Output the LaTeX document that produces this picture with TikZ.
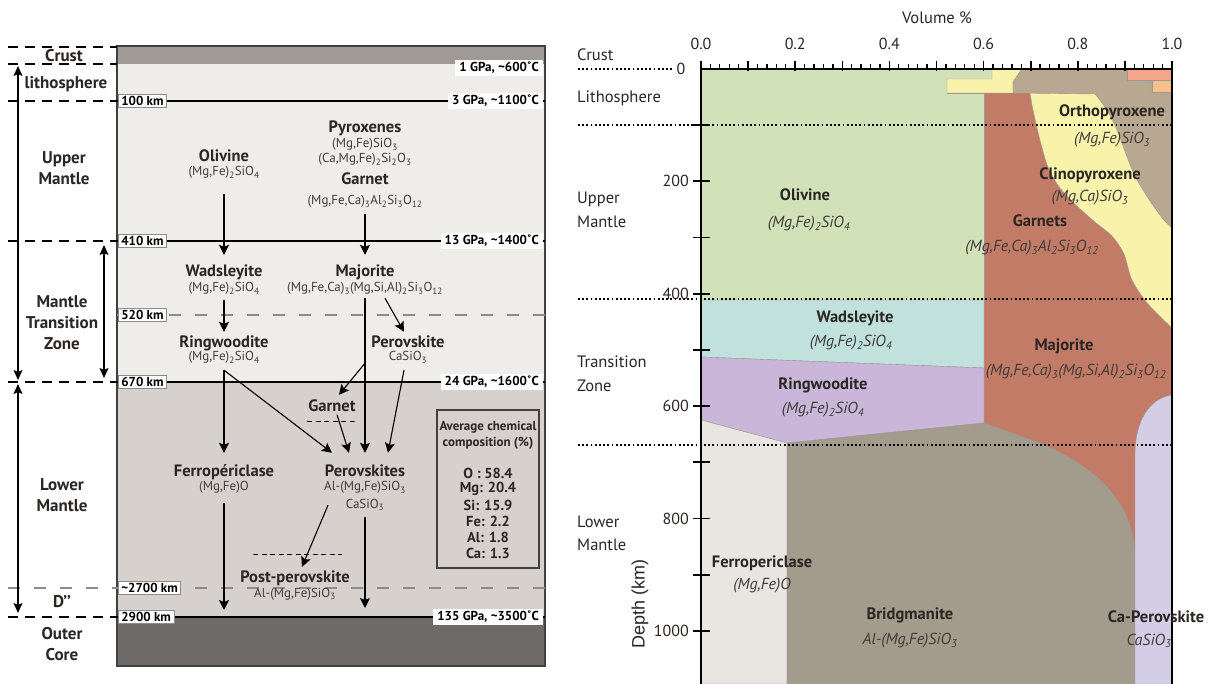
\documentclass[tikz,border=0pt]{standalone}
\usepackage{fontspec}
\setmainfont{PT Sans}
\newfontfamily\arialf{Liberation Sans}
\usetikzlibrary{arrows.meta}
\newcommand{\sbs}[1]{\textsubscript{#1}}
\definecolor{crustc}{HTML}{9F9A95}
\definecolor{upperc}{HTML}{EFEDEA}
\definecolor{lowerc}{HTML}{D6D1CC}
\definecolor{corec}{HTML}{6E6A67}
\definecolor{olc}{HTML}{D1E2B8}
\definecolor{yelc}{HTML}{F8F2AB}
\definecolor{tanc}{HTML}{B8A891}
\definecolor{redc}{HTML}{C27B67}
\definecolor{tealc}{HTML}{C1E1DC}
\definecolor{purc}{HTML}{C9B6D9}
\definecolor{ferc}{HTML}{E9E5E0}
\definecolor{brc}{HTML}{A39C8D}
\definecolor{capc}{HTML}{D4CDE6}
\definecolor{salc}{HTML}{F5A589}
\definecolor{orc}{HTML}{F9C08B}
\definecolor{txtc}{HTML}{2A2624}
\definecolor{frmc}{HTML}{403D3B}
\begin{document}
\begin{tikzpicture}[x=1pt,y=-1pt,
  nm/.style={font=\fontsize{16.5}{18}\selectfont\bfseries, text=txtc, inner sep=0pt, text height=12pt, text depth=3.5pt},
  fm/.style={font=\fontsize{13}{15}\selectfont, text=frmc, inner sep=0pt, text height=9.5pt, text depth=3.5pt},
  reg/.style={font=\fontsize{17}{21}\selectfont\bfseries, text=txtc, align=center, inner sep=0pt},
  kmbox/.style={draw=black!45, line width=0.6pt, fill=white, font=\fontsize{13}{15}\selectfont\bfseries, inner xsep=3pt, inner ysep=1.5pt, anchor=west},
  gpa/.style={fill=white, font=\fontsize{13}{15}\selectfont\bfseries, inner xsep=4pt, inner ysep=2pt, anchor=east},
  cmp/.style={font=\fontsize{14.5}{16}\selectfont\bfseries, text=txtc, inner sep=0pt},
  cmph/.style={font=\fontsize{13}{15}\selectfont\bfseries, text=txtc, inner sep=0pt},
  arr/.style={line width=1.1pt, -{Stealth[length=10pt,width=10pt,inset=2pt]}},
  darr/.style={line width=1.1pt, {Stealth[length=10pt,width=9pt,inset=2pt]}-{Stealth[length=10pt,width=9pt,inset=2pt]}},
  ldash/.style={line width=1.2pt, dash pattern=on 10pt off 7pt},
  gdash/.style={line width=1.2pt, black!45, dash pattern=on 12pt off 14pt},
  sdash/.style={line width=1.1pt, dash pattern=on 5pt off 3.5pt},
  bnd/.style={draw=black!40, line width=0.4pt},
  dotl/.style={line width=1.8pt, dash pattern=on 1.8pt off 2.4pt},
  rl/.style={font=\fontsize{16.5}{18}\selectfont, text=txtc, anchor=west, inner sep=0pt},
  rn/.style={font=\fontsize{16.5}{18}\selectfont\bfseries, text=txtc, inner sep=0pt},
  rf/.style={font=\fontsize{16}{18}\selectfont\itshape, text=frmc, inner sep=0pt},
  tl/.style={font=\fontsize{16}{18}\selectfont, text=txtc, inner sep=0pt}
]
\useasboundingbox (0,0) rectangle (1211,684);
\fill[white] (0,0) rectangle (1211,684);

% ================= LEFT PANEL =================
\fill[crustc] (117,46) rectangle (545,64);
\fill[upperc] (117,64) rectangle (545,382);
\fill[lowerc] (117,382) rectangle (545,617);
\fill[corec] (117,617) rectangle (545,666);
\draw[line width=1.2pt, black!75] (117,46) rectangle (545,666);

% horizontal boundaries
\draw[line width=1.1pt] (117,101) -- (545,101);
\draw[line width=1.1pt] (117,241) -- (545,241);
\draw[line width=1.1pt] (117,382) -- (545,382);
\draw[line width=1.1pt] (117,617) -- (545,617);
\draw[gdash] (117,315) -- (545,315);
\draw[gdash] (117,588) -- (545,588);

% left dashed guide lines
\draw[ldash] (8,47) -- (117,47);
\draw[ldash] (8,64) -- (117,64);
\draw[ldash] (8,101) -- (117,101);
\draw[ldash] (8,241) -- (117,241);
\draw[ldash] (8,382) -- (117,382);
\draw[gdash] (8,588) -- (117,588);
\draw[ldash] (8,617) -- (117,617);

% left range arrows
\coordinate (la1) at (18,66);
\coordinate (la2) at (18,380);
\coordinate (la3) at (18,384);
\coordinate (la4) at (18,613);
\coordinate (ta1) at (104,245);
\coordinate (ta2) at (104,378);
\draw[darr] (la1) -- (la2);
\draw[darr] (la3) -- (la4);
\draw[darr] (ta1) -- (ta2);

% region labels
\node[reg] (lcrust) at (64,56) {Crust};
\node[reg] (llith) at (66,84) {lithosphere};
\node[reg] (lupper) at (64,168.5) {Upper\\Mantle};
\node[reg] (ltz) at (62,322.5) {Mantle\\Transition\\Zone};
\node[reg] (llower) at (62,495) {Lower\\Mantle};
\node[reg] (ldpp) at (62,602) {D’’};
\node[reg] (lcore) at (62,644) {Outer\\Core};

% depth boxes
\node[kmbox] (k100) at (118,101) {100 km};
\node[kmbox] (k410) at (118,241) {410 km};
\node[kmbox] (k520) at (118,315) {520 km};
\node[kmbox] (k670) at (118,382) {670 km};
\node[kmbox] (k2700) at (118,588) {\textasciitilde 2700 km};
\node[kmbox] (k2900) at (118,617) {2900 km};

% P-T labels
\node[gpa] (p1) at (543,68) {1 GPa, \textasciitilde 600˚C};
\node[gpa] (p3) at (543,101) {3 GPa, \textasciitilde 1100˚C};
\node[gpa] (p13) at (543,241) {13 GPa, \textasciitilde 1400˚C};
\node[gpa] (p24) at (543,382) {24 GPa, \textasciitilde 1600˚C};
\node[gpa] (p135) at (543,617) {135 GPa, \textasciitilde 3500˚C};

% minerals
\node[nm] (oliv) at (224,157) {Olivine};
\node[fm] (olivf) at (224,173) {(Mg,Fe)\sbs{2}SiO\sbs{4}};
\node[nm] (pyx) at (365,128) {Pyroxenes};
\node[fm] (pyxf1) at (365,145) {(Mg,Fe)SiO\sbs{3}};
\node[fm] (pyxf2) at (365,160) {(Ca,Mg,Fe)\sbs{2}Si\sbs{2}O\sbs{3}};
\node[nm] (gar) at (365,180) {Garnet};
\node[fm] (garf) at (365,202) {(Mg,Fe,Ca)\sbs{3}Al\sbs{2}Si\sbs{3}O\sbs{12}};
\node[nm] (wads) at (224,272) {Wadsleyite};
\node[fm] (wadsf) at (224,289) {(Mg,Fe)\sbs{2}SiO\sbs{4}};
\node[nm] (maj) at (365,272) {Majorite};
\node[fm] (majf) at (365,289) {(Mg,Fe,Ca)\sbs{3}(Mg,Si,Al)\sbs{2}Si\sbs{3}O\sbs{12}};
\node[nm] (ring) at (224,343) {Ringwoodite};
\node[fm] (ringf) at (224,358) {(Mg,Fe)\sbs{2}SiO\sbs{4}};
\node[nm] (pv) at (408,343) {Perovskite};
\node[fm] (pvf) at (408,358) {CaSiO\sbs{3}};
\node[nm] (garl) at (332,407) {Garnet};
\node[nm] (ferro) at (224,472) {Ferropériclase};
\node[fm] (ferrof) at (224,488) {(Mg,Fe)O};
\node[nm] (pvs) at (365,472) {Perovskites};
\node[fm] (pvsf1) at (365,488) {Al-(Mg,Fe)SiO\sbs{3}};
\node[fm] (pvsf2) at (365,505) {CaSiO\sbs{3}};
\node[nm] (post) at (295,578) {Post-perovskite};
\node[fm] (postf) at (295,594) {Al-(Mg,Fe)SiO\sbs{3}};

% phase-boundary short dashes
\draw[sdash] ([xshift=-25pt,yshift=-6.25pt]garl.south) -- ([xshift=24pt,yshift=-6.25pt]garl.south);
\draw[sdash] ([xshift=-42pt,yshift=15.25pt]post.north) -- ([xshift=47pt,yshift=15.25pt]post.north);

% transformation arrows
\coordinate (ferroEnd) at (224,610);
\coordinate (pvsEnd) at (365,608);
\draw[arr] ([yshift=-14.5pt]olivf.south) -- ([yshift=9.25pt]wads.north);
\draw[arr] ([yshift=-5.5pt]garf.south) -- ([yshift=9.25pt]maj.north);
\draw[arr] ([yshift=-4.5pt]wadsf.south) -- ([yshift=3.25pt]ring.north);
\draw[arr] ([xshift=20pt,yshift=-2.5pt]majf.south) -- ([xshift=-4pt,yshift=3.25pt]pv.north);
\draw[arr] ([yshift=-2.5pt]majf.south) -- ([yshift=11.25pt]pvs.north);
\coordinate (br) at ([yshift=-67.5pt]majf.south);
\draw[arr] (br) -- ([xshift=7pt,yshift=4.25pt]garl.north);
\draw[arr] ([yshift=-5.5pt]ringf.south) -- ([yshift=11.25pt]ferro.north);
\draw[arr] ([yshift=-5.5pt]ringf.south) -- ([xshift=-33pt,yshift=11.25pt]pvs.north);
\draw[arr] ([xshift=5pt,yshift=0.25pt]garl.south) -- ([xshift=-16pt,yshift=11.25pt]pvs.north);
\draw[arr] ([xshift=-4pt,yshift=-5.5pt]pvf.south) -- ([xshift=23pt,yshift=11.25pt]pvs.north);
\draw[arr] ([yshift=-8.5pt]ferrof.south) -- (ferroEnd);
\draw[arr] ([yshift=-5.5pt]pvsf2.south) -- (pvsEnd);
\draw[arr] ([xshift=-37pt,yshift=-10.5pt]pvsf1.south) -- ([xshift=7pt,yshift=3.25pt]post.north);

% composition box
\node[draw=black!75, line width=1.2pt, minimum width=102pt, minimum height=158pt, inner sep=0pt] (comp) at (488,489) {};
\node[cmph] (c1) at (488,427) {Average chemical};
\node[cmph] (c2) at (488,443) {composition (\%)};
\node[cmp] (c3) at (488,473) {O : 58.4};
\node[cmp] (c4) at (488,489) {Mg: 20.4};
\node[cmp] (c5) at (488,505) {Si: 15.9};
\node[cmp] (c6) at (488,521) {Fe: 2.2};
\node[cmp] (c7) at (488,537) {Al: 1.8};
\node[cmp] (c8) at (488,553) {Ca: 1.3};

% ================= RIGHT PANEL =================
\fill[redc] (984,93) rectangle (1172,684);
\filldraw[bnd, fill=olc] (701,69) -- (992,69) -- (992,79) -- (947,79) -- (947,93) -- (984,93) -- (984,300) -- (701,300) -- cycle;
\filldraw[bnd, fill=yelc] (992,69) -- (1022,69) -- (1013,82) -- (1013,93) -- (947,93) -- (947,79) -- (992,79) -- cycle;
\filldraw[bnd, fill=yelc] plot[smooth] coordinates {(1030,93) (1033,110) (1040,140) (1048,167) (1060,188) (1077,206) (1095,222) (1112,236) (1124,254) (1132,280) (1148,304) (1172,328)} -- (1172,92) -- (1030,92) -- cycle;
\filldraw[bnd, fill=tanc] (1022,69) -- (1127,69) -- (1127,80) -- (1152,80) -- (1152,92) -- (1172,92) -- (1172,228) -- plot[smooth] coordinates {(1172,228) (1163,219) (1148,198) (1135,176) (1127,157) (1117,130) (1107,110) (1095,94)} -- (1013,93) -- (1013,82) -- cycle;
\filldraw[bnd, fill=salc] (1127,69) rectangle (1172,80);
\filldraw[bnd, fill=orc] (1152,80) rectangle (1172,92);
\filldraw[bnd, fill=tealc] (701,300) -- (984,300) -- (984,368) -- (701,357) -- cycle;
\filldraw[bnd, fill=purc] (701,357) -- (984,368) -- (984,423) -- (787,443) -- (701,420) -- cycle;
\filldraw[bnd, fill=ferc] (701,420) -- (787,443) -- (787,684) -- (701,684) -- cycle;
\filldraw[bnd, fill=brc] (787,684) -- (787,443) -- (984,423) -- (1040,443) .. controls (1095,467) and (1133,500) .. (1135,555) -- (1135,684) -- cycle;
\filldraw[bnd, fill=capc] (1135,684) -- (1135,455) .. controls (1135,420) and (1150,398) .. (1172,395) -- (1172,684) -- cycle;

% dotted depth lines
\draw[dotl] (578,69) -- (672,69);
\draw[dotl] (578,125) -- (1172,125);
\draw[dotl] (578,299) -- (1172,299);
\draw[dotl] (578,445) -- (1172,445);

% axes
\draw[line width=2.2pt] (701,69) -- (701,684);
\draw[line width=2pt] (1172,69) -- (1172,684);
\draw[line width=2pt] (700,69) -- (1173,69);
\foreach \k in {0,...,50}{
  \pgfmathsetmacro{\xx}{701+9.42*\k}
  \pgfmathtruncatemacro{\mm}{mod(\k,5)}
  \ifnum\mm=0 \draw[line width=1.6pt] (\xx,71) -- (\xx,61); \else \draw[line width=1.3pt] (\xx,69) -- (\xx,64.5); \fi
}
\foreach \d in {100,200,...,1000}{
  \draw[line width=1.8pt] (693,69+0.5618*\d) -- (710,69+0.5618*\d);
}
\foreach \d in {200,400,...,1000}{
  \node[tl, anchor=east] at (689,69+0.5618*\d) {\d};
}
\node[tl] (z0) at (681,69) {0};
\node[tl] (t0) at (701,44) {0.0};
\node[tl] (t2) at (795.2,44) {0.2};
\node[tl] (t4) at (889.4,44) {0.4};
\node[tl] (t6) at (983.6,44) {0.6};
\node[tl] (t8) at (1077.8,44) {0.8};
\node[tl] (t10) at (1172,44) {1.0};
\node[tl, font=\fontsize{16.5}{18}\selectfont] (vol) at (937,18) {Volume \%};
\node[rotate=90, font=\arialf\fontsize{18}{20}\selectfont, text=txtc] (depth) at (640,604) {Depth (km)};

% right region labels
\node[rl] (rcrust) at (577,55) {Crust};
\node[rl] (rlith) at (577,98) {Lithosphere};
\node[rl] (rup1) at (577,199) {Upper};
\node[rl] (rup2) at (577,222) {Mantle};
\node[rl] (rtz1) at (577,362) {Transition};
\node[rl] (rtz2) at (577,386) {Zone};
\node[rl] (rlo1) at (577,522) {Lower};
\node[rl] (rlo2) at (577,545) {Mantle};

% mineral labels
\node[rn] (opx) at (1112,112) {Orthopyroxene};
\node[rf] (opxf) at (1112,140) {(Mg,Fe)SiO\sbs{3}};
\node[rn] (cpx) at (1090,175) {Clinopyroxene};
\node[rf] (cpxf) at (1090,198) {(Mg,Ca)SiO\sbs{3}};
\node[rn] (grt) at (1040,221) {Garnets};
\node[rf] (grtf) at (1032,248) {(Mg,Fe,Ca)\sbs{3}Al\sbs{2}Si\sbs{3}O\sbs{12}};
\node[rn] (rol) at (805,195) {Olivine};
\node[rf] (rolf) at (809,224) {(Mg,Fe)\sbs{2}SiO\sbs{4}};
\node[rn] (rwd) at (855,318) {Wadsleyite};
\node[rf] (rwdf) at (851,343) {(Mg,Fe)\sbs{2}SiO\sbs{4}};
\node[rn] (rrw) at (823,385) {Ringwoodite};
\node[rf] (rrwf) at (823,410) {(Mg,Fe)\sbs{2}SiO\sbs{4}};
\node[rn] (rmj) at (1064,346) {Majorite};
\node[rf] (rmjf) at (1076,372) {(Mg,Fe,Ca)\sbs{3}(Mg,Si,Al)\sbs{2}Si\sbs{3}O\sbs{12}};
\node[rn] (rfp) at (762,563) {Ferropericlase};
\node[rf] (rfpf) at (762,586) {(Mg,Fe)O};
\node[rn] (rbr) at (910,615) {Bridgmanite};
\node[rf] (rbrf) at (910,641) {Al-(Mg,Fe)SiO\sbs{3}};
\node[rn] (rcp) at (1156,617) {Ca-Perovskite};
\node[rf] (rcpf) at (1149,641) {CaSiO\sbs{3}};
\end{tikzpicture}
\end{document}
